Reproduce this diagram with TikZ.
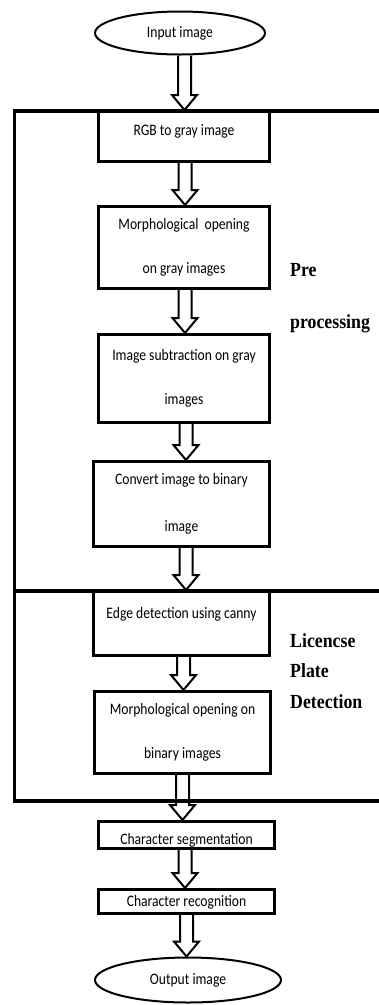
\documentclass[tikz,border=0pt]{standalone}
\usepackage{fontspec}
\setmainfont{Carlito}
\newfontfamily\tnr{Liberation Serif}
\usepackage{graphicx}
\usetikzlibrary{shapes.geometric,calc}
\newcommand\sq[1]{\scalebox{0.85}[1]{#1}}
\newcommand\sqs[1]{\scalebox{0.89}[1]{#1}}
\tikzset{
  stepbox/.style={draw, line width=3pt, rectangle, inner sep=0pt, align=center,
    font=\fontsize{16}{19}\selectfont},
  oval/.style={draw, line width=2pt, ellipse, inner sep=0pt,
    font=\fontsize{16}{19}\selectfont, text height=11pt, text depth=3pt},
  blockarrow/.style={draw, line width=2pt, line join=miter},
  framel/.style={line width=3.5pt},
  lbl/.style={anchor=base west, inner sep=0pt, font=\tnr\bfseries\fontsize{20}{24}\selectfont}
}
% block arrow from node #1 to node #2, x = x of #2 + #3
\newcommand\barrow[3]{%
  \draw[blockarrow] let \p1=(#1.south), \p2=(#2.north) in
    (\x2+#3pt-6.5pt,\y1) -- (\x2+#3pt-6.5pt,\y2+15pt) -- (\x2+#3pt-12.5pt,\y2+15pt)
    -- (\x2+#3pt,\y2) -- (\x2+#3pt+12.5pt,\y2+15pt) -- (\x2+#3pt+6.5pt,\y2+15pt)
    -- (\x2+#3pt+6.5pt,\y1);}
\begin{document}
\begin{tikzpicture}[x=1pt,y=-1pt]
\useasboundingbox (0,0) rectangle (379,1005);
% frames
\draw[framel] (380,111) -- (14.5,111) -- (14.5,801) -- (380,801);
\draw[framel] (14.5,591) -- (380,591);
% nodes
\node[oval, minimum width=170pt, minimum height=43pt] (in) at (180,33) {\sq{Input image}};
\node[stepbox, minimum width=171pt, minimum height=50pt, text height=11pt, text depth=14pt] (rgb) at (184,136.5) {\sq{RGB to gray image}};
\node[stepbox, minimum width=171pt, minimum height=82pt] (m1) at (184,247.5)
  {\sq{Morphological\ \ opening}\\[25pt]\sq{on gray images}};
\node[stepbox, minimum width=171pt, minimum height=88pt] (sub) at (184,378.5)
  {\sq{Image subtraction on gray}\\[25pt]\sq{images}};
\node[stepbox, minimum width=176pt, minimum height=85pt] (bin) at (181.5,504)
  {\sq{Convert image to binary}\\[28pt]\sq{image}};
\node[stepbox, minimum width=176pt, minimum height=64pt, text height=11pt, text depth=22pt] (edge) at (181.5,623.5)
  {\sq{Edge detection using canny}};
\node[stepbox, minimum width=176pt, minimum height=82pt] (m2) at (182.5,732.5)
  {\sq{Morphological opening on}\\[25pt]\sq{binary images}};
\node[stepbox, minimum width=176pt, minimum height=27pt, text height=22pt, text depth=4pt] (seg) at (186.5,835)
  {\sq{Character segmentation}};
\node[stepbox, minimum width=176pt, minimum height=24pt, text height=13pt, text depth=4pt] (rec) at (186.5,901.5)
  {\sq{Character recognition}};
\node[oval, minimum width=186pt, minimum height=45pt] (out) at (188,980) {\sq{Output image}};
% side labels
\node[lbl] (pre1) at (290,276) {\sqs{Pre}};
\node[lbl] (pre2) at (290,328) {\sqs{processing}};
\node[lbl] (lp1) at (290,647) {\sqs{Licencse}};
\node[lbl] (lp2) at (290,677) {\sqs{Plate}};
\node[lbl] (lp3) at (290,708) {\sqs{Detection}};
% arrows
\barrow{in}{rgb}{0.5}
\barrow{rgb}{m1}{1}
\barrow{m1}{sub}{1}
\barrow{sub}{bin}{4.5}
\barrow{bin}{edge}{4.5}
\barrow{edge}{m2}{1}
\barrow{m2}{seg}{-4}
\barrow{seg}{rec}{-1.5}
\barrow{rec}{out}{-1.5}
\end{tikzpicture}
\end{document}
